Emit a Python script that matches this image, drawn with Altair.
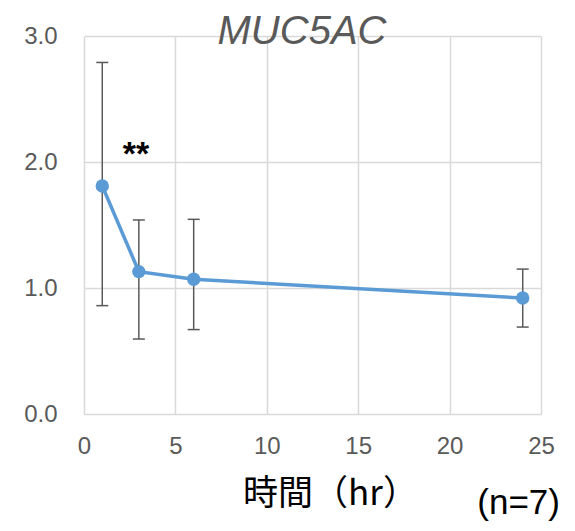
import altair as alt
import pandas as pd

# Data
hours = [1, 3, 6, 24]
means = [1.81, 1.13, 1.07, 0.92]
err_high = [2.79, 1.54, 1.545, 1.15]
err_low = [0.86, 0.595, 0.67, 0.69]

x_ticks = [0, 5, 10, 15, 20, 25]
y_ticks = [0, 1, 2, 3]

sig_x = [2.84]
sig_y = [2.1]
sig_label = ["**"]

title_text = ["MUC5AC"]
note_text = ["(n=7)"]

df = pd.DataFrame({"hr": hours, "mean": means, "hi": err_high, "lo": err_low})
sig_df = pd.DataFrame({"hr": sig_x, "mean": sig_y, "label": sig_label})
note_df = pd.DataFrame({"label": note_text})
title_df = pd.DataFrame({"label": title_text})

GRID = "#d9d9d9"
LABEL = "#595959"
BLUE = "#5b9bd5"
ERR = "#595959"

xscale = alt.Scale(domain=[0, 25], nice=False)
yscale = alt.Scale(domain=[0, 3], nice=False)

xaxis = alt.Axis(
    values=x_ticks, title="時間（hr）", grid=True, gridColor=GRID, gridWidth=1.5,
    domain=False, ticks=False, labelFontSize=24, labelColor=LABEL,
    labelFont="Liberation Sans", labelPadding=20, labelFlush=False,
    titleFont="Noto Sans CJK JP", titleFontSize=35, titleFontWeight="normal",
    titleColor="black", titleX=246, titleY=90, titleBaseline="alphabetic",
    titleAlign="center",
)
yaxis = alt.Axis(
    values=y_ticks, format=".1f", title=None, grid=True, gridColor=GRID,
    gridWidth=1.5, domain=False, ticks=False, labelFontSize=24,
    labelColor=LABEL, labelFont="Liberation Sans", labelPadding=27,
    labelFlush=False,
)

base = alt.Chart(df)

err = base.mark_rule(color=ERR, strokeWidth=1.5).encode(
    x=alt.X("hr:Q", scale=xscale, axis=xaxis),
    y=alt.Y("lo:Q", scale=yscale, axis=yaxis),
    y2="hi:Q",
)
cap_hi = base.mark_rule(color=ERR, strokeWidth=1.5, xOffset=-6, x2Offset=6).encode(
    x=alt.X("hr:Q", scale=xscale, axis=xaxis), x2="hr:Q",
    y=alt.Y("hi:Q", scale=yscale, axis=yaxis),
)
cap_lo = base.mark_rule(color=ERR, strokeWidth=1.5, xOffset=-6, x2Offset=6).encode(
    x=alt.X("hr:Q", scale=xscale, axis=xaxis), x2="hr:Q",
    y=alt.Y("lo:Q", scale=yscale, axis=yaxis),
)
line = base.mark_line(color=BLUE, strokeWidth=3.5).encode(
    x=alt.X("hr:Q", scale=xscale, axis=xaxis),
    y=alt.Y("mean:Q", scale=yscale, axis=yaxis),
)
pts = base.mark_circle(color=BLUE, size=180, opacity=1).encode(
    x=alt.X("hr:Q", scale=xscale, axis=xaxis),
    y=alt.Y("mean:Q", scale=yscale, axis=yaxis),
)
sig = alt.Chart(sig_df).mark_text(
    font="Liberation Sans", fontSize=34, fontWeight="bold", color="black",
    baseline="alphabetic", align="center", dy=15.5,
).encode(
    x=alt.X("hr:Q", scale=xscale, axis=xaxis),
    y=alt.Y("mean:Q", scale=yscale, axis=yaxis),
    text="label:N",
)
title = alt.Chart(title_df).mark_text(
    font="Liberation Sans", fontSize=40, fontStyle="italic", color=LABEL,
    baseline="alphabetic", align="center",
).encode(x=alt.value(218), y=alt.value(8), text="label:N")
note = alt.Chart(note_df).mark_text(
    font="Liberation Sans", fontSize=35, color="black",
    baseline="alphabetic", align="right",
).encode(x=alt.value(476), y=alt.value(478), text="label:N")

chart = alt.layer(err, cap_hi, cap_lo, line, pts, sig, title, note).properties(
    width=457,
    height=378,
    autosize=alt.AutoSizeParams(type="none"),
    padding={"left": 76, "top": 28, "right": 26, "bottom": 107},
).configure_view(stroke=None)

chart.save("out.html", embed_options={"renderer": "svg", "actions": False})
